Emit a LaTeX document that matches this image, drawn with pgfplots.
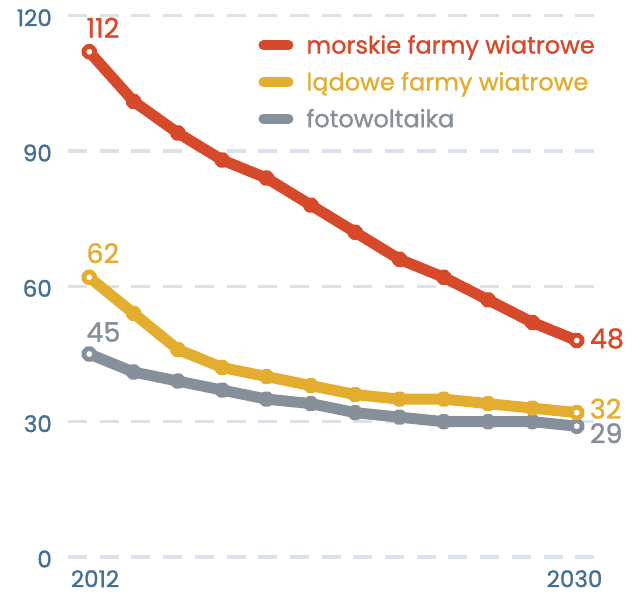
\documentclass[border=0pt]{standalone}
\usepackage{pgfplots}
\pgfplotsset{compat=1.18}
\usepackage{pgfplotstable}
\usepackage{fontspec}
\setmainfont{Poppins}[FakeBold=1.2]
\definecolor{cred}{HTML}{D6492A}
\definecolor{cyel}{HTML}{E3AD2F}
\definecolor{cgray}{HTML}{86909B}
\definecolor{ctick}{HTML}{46708F}
\definecolor{cgrid}{HTML}{DBE2EA}
\pgfplotstableread{
x red yel gray
0 112 62 45
1 101 54 41
2 94 46 39
3 88 42 37
4 84 40 35
5 78 38 34
6 72 36 32
7 66 35 31
8 62 35 30
9 57 34 30
10 52 33 30
11 48 32 29
}\data
\begin{document}
\begin{tikzpicture}[x=1bp,y=1bp]
\path[use as bounding box] (0,0) rectangle (632,595);
\begin{axis}[
  at={(68bp,38bp)}, anchor=south west,
  scale only axis, width=532bp, height=541.3bp,
  xmin=-0.48, xmax=11.525, ymin=0, ymax=120,
  axis line style={draw=none},
  major tick length=0pt,
  tick style={draw=none},
  ytick={0,30,60,90,120},
  ymajorgrids,
  grid style={color=cgrid, line width=3.5bp, dash pattern=on 19bp off 12.7bp},
  xtick={0.13,10.95}, xticklabels={2012,2030},
  ticklabel style={font=\fontsize{23bp}{23bp}\selectfont, text=ctick, inner sep=0pt},
  yticklabel style={anchor=east, xshift=-16bp, yshift=-2bp},
  xticklabel style={anchor=north, yshift=-13bp},
  /pgf/number format/assume math mode=true,
  clip=false,
  reverse legend,
  legend cell align=left,
  legend style={at={(0.358,0.8775)}, anchor=west, draw=none, fill=none,
    inner sep=0pt, outer sep=0pt, row sep=17bp,
    font=\fontsize{24bp}{26bp}\selectfont, nodes={inner sep=0pt}},
  legend image code/.code={\draw[#1, mark=none, line width=10bp, line cap=round] (5bp,0pt) -- (30bp,0pt);},
  every axis plot/.append style={line width=11bp, line join=round, line cap=round},
]
\addplot[cgray, mark=*, mark size=2.5bp, mark options={fill=white, draw=none}] table[x=x, y=gray] {\data};
\addlegendentry{\hspace*{13bp}\textcolor{cgray}{fotowoltaika}}
\addplot[forget plot, cgray, only marks, mark=*, mark indices={1,12}, mark size=4bp, mark options={fill=white, draw=cgray, line width=1.8bp}] table[x=x, y=gray] {\data};
\addplot[cyel, mark=*, mark size=2.5bp, mark options={fill=white, draw=none}] table[x=x, y=yel] {\data};
\addlegendentry{\hspace*{13bp}\textcolor{cyel}{lądowe farmy wiatrowe}}
\addplot[forget plot, cyel, only marks, mark=*, mark indices={1,12}, mark size=4bp, mark options={fill=white, draw=cyel, line width=1.8bp}] table[x=x, y=yel] {\data};
\addplot[cred, mark=*, mark size=2.5bp, mark options={fill=white, draw=none}] table[x=x, y=red] {\data};
\addlegendentry{\hspace*{13bp}\textcolor{cred}{morskie farmy wiatrowe}}
\addplot[forget plot, cred, only marks, mark=*, mark indices={1,12}, mark size=4bp, mark options={fill=white, draw=cred, line width=1.8bp}] table[x=x, y=red] {\data};
\begin{scope}[every node/.style={inner sep=0pt, font=\fontsize{27bp}{27bp}\selectfont}]
\node[anchor=south west, text=cred, xshift=-3bp, yshift=14bp] at (axis cs:0,112) {112};
\node[anchor=south west, text=cyel, xshift=-3bp, yshift=14bp] at (axis cs:0,62) {62};
\node[anchor=south west, text=cgray, xshift=-3bp, yshift=12bp] at (axis cs:0,45) {45};
\node[anchor=west, text=cred, xshift=13bp, yshift=2bp] at (axis cs:11,48) {48};
\node[anchor=west, text=cyel, xshift=13bp, yshift=4bp] at (axis cs:11,32) {32};
\node[anchor=west, text=cgray, xshift=13bp, yshift=-7bp] at (axis cs:11,29) {29};
\end{scope}
\end{axis}
\end{tikzpicture}
\end{document}
